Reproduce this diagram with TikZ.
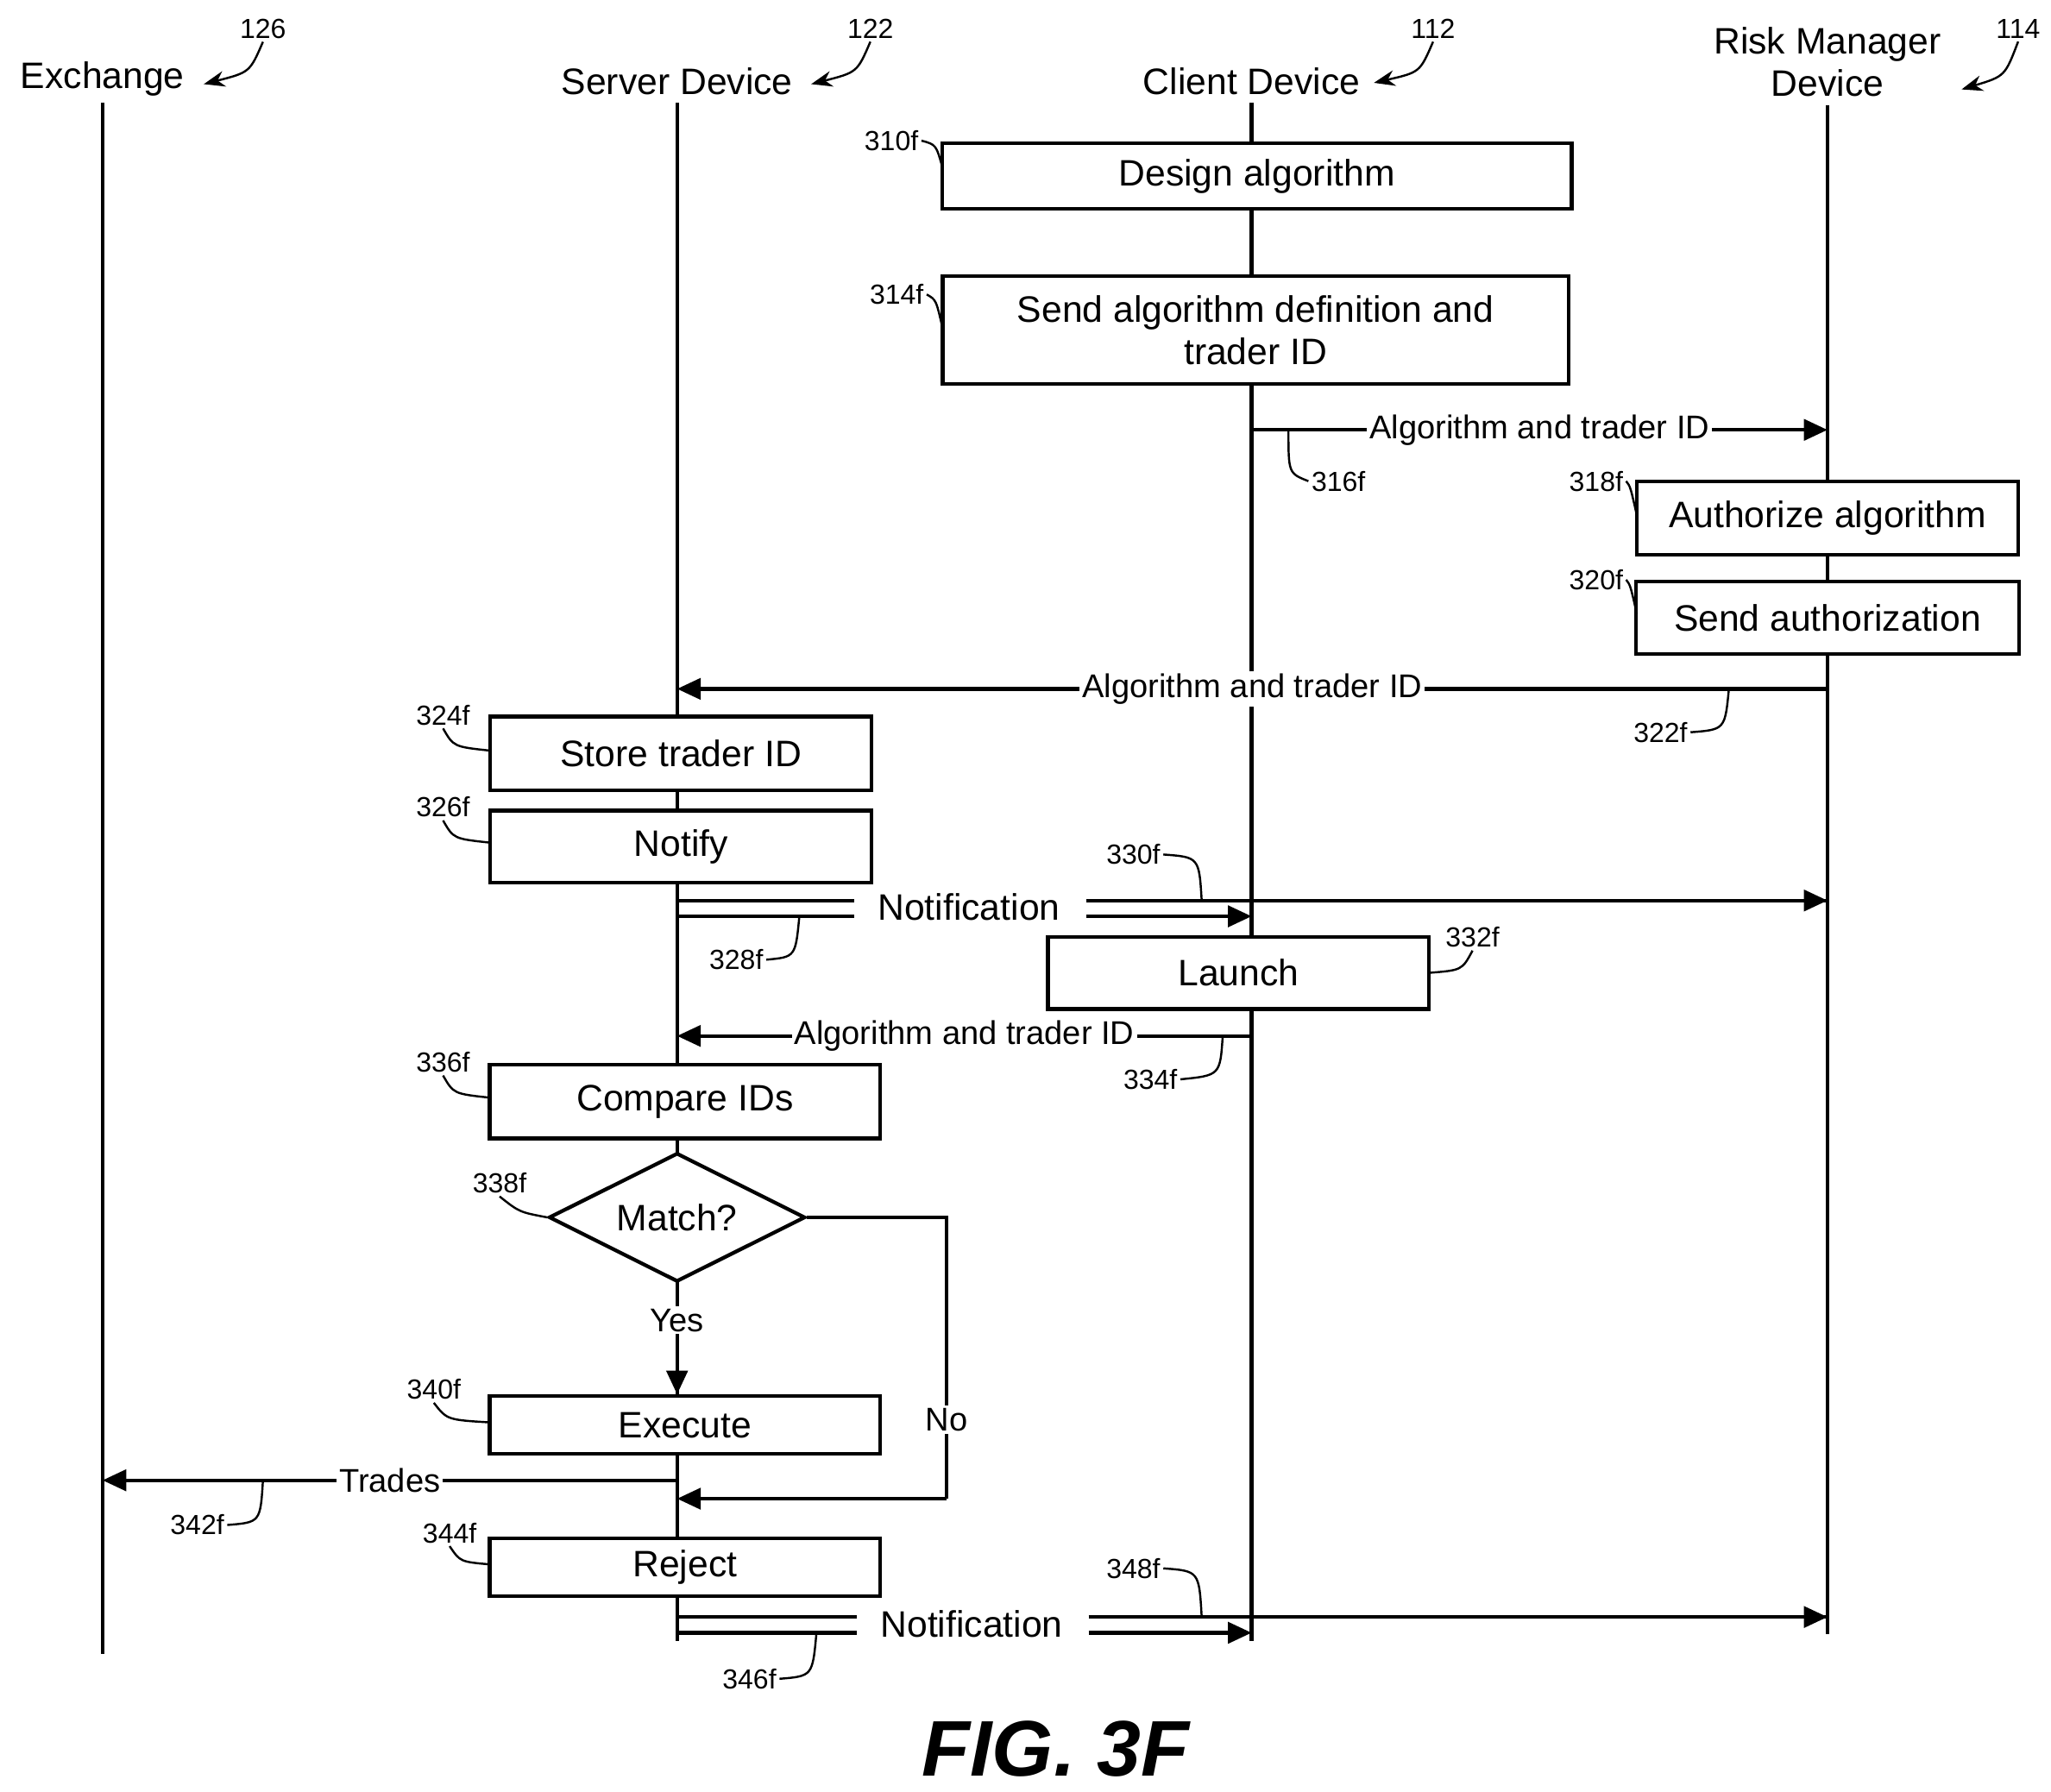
\documentclass[tikz,border=0pt]{standalone}
\usepackage{fontspec}
\setmainfont{Liberation Sans}
\usetikzlibrary{shapes.geometric,arrows.meta}
\tikzset{
  box/.style={draw,line width=1.4pt,fill=white,inner sep=0pt,font=\fontsize{14}{16}\selectfont,align=center},
  ref/.style={font=\fontsize{10.5}{12}\selectfont,inner sep=1pt},
  hdr/.style={font=\fontsize{14}{16}\selectfont,align=center,inner sep=1pt},
  lbl/.style={font=\fontsize{12.5}{14}\selectfont,fill=white,inner sep=1pt},
  msg/.style={line width=1.4pt,-{Triangle[length=9pt,width=8pt]}},
  life/.style={line width=1.4pt},
  lead/.style={line width=0.8pt}
}
\begin{document}
\begin{tikzpicture}[x=0.5pt,y=0.5pt,yscale=-1]
\useasboundingbox (0,0) rectangle (1560,1363);

% Lifelines
\coordinate (ex0) at (78,78);   \coordinate (ex1) at (78,1258);
\coordinate (sv0) at (515,78);  \coordinate (sv1) at (515,1248);
\coordinate (cl0) at (952,78);  \coordinate (cl1) at (952,1248);
\coordinate (rm0) at (1390,80); \coordinate (rm1) at (1390,1243);
\draw[life] (ex0) -- (ex1);
\draw[life] (sv0) -- (sv1);
\draw[life] (cl0) -- (cl1);
\draw[life] (rm0) -- (rm1);

% Headers
\node[hdr] (exchange) at (78,60) {Exchange};
\node[hdr] (server) at (515,62) {Server Device};
\node[hdr] (client) at (952,62) {Client Device};
\node[hdr] (risk) at (1390,47) {Risk Manager\\Device};
\node[ref] (r126) at (200,22) {126};
\node[ref] (r122) at (662,22) {122};
\node[ref] (r112) at (1090,22) {112};
\node[ref] (r114) at (1535,22) {114};
\draw[lead,-{Stealth[length=8pt]}] (r126.south) .. controls (190,55) .. (155,64);
\draw[lead,-{Stealth[length=8pt]}] (r122.south) .. controls (652,55) .. (617,64);
\draw[lead,-{Stealth[length=8pt]}] (r112.south) .. controls (1080,55) .. (1045,63);
\draw[lead,-{Stealth[length=8pt]}] (r114.south) .. controls (1525,58) .. (1492,68);

% Client boxes
\node[box,minimum width=239.5pt,minimum height=25pt] (design) at (956,134) {Design algorithm};
\node[box,minimum width=238pt,minimum height=41pt] (send) at (955,251) {Send algorithm definition and\\trader ID};
\node[ref] (r310) at (678,107) {310f};
\node[ref] (r314) at (682,224) {314f};
\draw[lead] (r310.east) .. controls (712,110) .. (717,128);
\draw[lead] (r314.east) .. controls (712,228) .. (717,250);

% 316f
\coordinate (a316s) at (952,327); \coordinate (a316e) at (1390,327);
\draw[msg] (a316s) -- node[lbl] (t316) {Algorithm and trader ID} (a316e);
\node[ref] (r316) at (1018,366) {316f};
\draw[lead] (980,327) .. controls (980,360) .. (r316.west);

% Risk manager boxes
\node[box,minimum width=145pt,minimum height=28pt] (authorize) at (1390,394) {Authorize algorithm};
\node[box,minimum width=145.5pt,minimum height=27.5pt] (sendauth) at (1390,470) {Send authorization};
\node[ref] (r318) at (1214,366) {318f};
\node[ref] (r320) at (1214,441) {320f};
\draw[lead] (r318.east) .. controls (1240,370) .. (1245,392);
\draw[lead] (r320.east) .. controls (1240,445) .. (1245,467);

% 322f
\coordinate (a322s) at (1390,524); \coordinate (a322e) at (515,524);
\draw[msg] (a322s) -- node[lbl] (t322) {Algorithm and trader ID} (a322e);
\node[ref] (r322) at (1263,557) {322f};
\draw[lead] (r322.east) .. controls (1312,555) .. (1315,524);

% Server boxes
\node[box,minimum width=145pt,minimum height=28pt] (store) at (518,573) {Store trader ID};
\node[box,minimum width=145pt,minimum height=27.5pt] (notify) at (518,644) {Notify};
\node[ref] (r324) at (337,544) {324f};
\node[ref] (r326) at (337,614) {326f};
\draw[lead] (r324.south) .. controls (345,568) .. (373,571);
\draw[lead] (r326.south) .. controls (345,638) .. (373,641);

% Notification (328f, 330f)
\coordinate (n1a) at (515,685); \coordinate (n1b) at (515,697);
\coordinate (n1c) at (1390,685); \coordinate (n1d) at (952,697);
\node[font=\fontsize{14}{16}\selectfont] (note1) at (737,690) {Notification};
\draw[life] (n1a) -- (650,685) (826,685) -- (n1c);
\draw[life] (n1b) -- (650,697);
\draw[msg] (826,697) -- (n1d);
\draw[msg] (1360,685) -- (n1c);
\node[ref] (r328) at (560,730) {328f};
\node[ref] (r330) at (862,650) {330f};
\draw[lead] (r328.east) .. controls (605,728) .. (608,697);
\draw[lead] (r330.east) .. controls (912,652) .. (914,685);

% Launch
\node[box,minimum width=145pt,minimum height=27.5pt] (launch) at (942,740) {Launch};
\node[ref] (r332) at (1120,713) {332f};
\draw[lead] (r332.south) .. controls (1112,738) .. (1087,740);

% 334f
\coordinate (a334s) at (952,788); \coordinate (a334e) at (515,788);
\draw[msg] (a334s) -- node[lbl] (t334) {Algorithm and trader ID} (a334e);
\node[ref] (r334) at (875,821) {334f};
\draw[lead] (r334.east) .. controls (928,818) .. (930,788);

% Compare and decision
\node[box,minimum width=148.5pt,minimum height=28pt] (compare) at (521,838) {Compare IDs};
\node[ref] (r336) at (337,808) {336f};
\draw[lead] (r336.south) .. controls (345,832) .. (373,835);
\node[draw,line width=1.4pt,diamond,fill=white,minimum width=97.5pt,minimum height=49pt,inner sep=0pt,aspect=2,font=\fontsize{14}{16}\selectfont] (match) at (515,926) {Match?};
\node[ref] (r338) at (380,900) {338f};
\draw[lead] (r338.south) .. controls (395,922) .. (match.west);
\node[box,minimum width=148.5pt,minimum height=22pt] (execute) at (521,1084) {Execute};
\node[ref] (r340) at (330,1057) {340f};
\draw[lead] (r340.south) .. controls (340,1080) .. (373,1082);
\draw[msg] (match.south) -- node[lbl,pos=0.33] (yes) {Yes} (match.south |- execute.north);
\coordinate (nocorner1) at (720,926); \coordinate (nocorner2) at (720,1140);
\coordinate (noend) at (515,1140);
\draw[life] (match.east) -- (nocorner1) -- node[lbl,pos=0.72] (no) {No} (nocorner2);
\draw[msg] (nocorner2) -- (noend);

% 342f
\coordinate (a342s) at (515,1126); \coordinate (a342e) at (78,1126);
\draw[msg] (a342s) -- node[lbl] (t342) {Trades} (a342e);
\node[ref] (r342) at (150,1160) {342f};
\draw[lead] (r342.east) .. controls (198,1158) .. (200,1126);

% Reject
\node[box,minimum width=148.5pt,minimum height=22pt] (reject) at (521,1192) {Reject};
\node[ref] (r344) at (342,1166) {344f};
\draw[lead] (r344.south) .. controls (350,1188) .. (373,1190);

% Notification (346f, 348f)
\coordinate (n2a) at (515,1230); \coordinate (n2b) at (515,1242);
\coordinate (n2c) at (1390,1230); \coordinate (n2d) at (952,1242);
\node[font=\fontsize{14}{16}\selectfont] (note2) at (739,1235) {Notification};
\draw[life] (n2a) -- (652,1230) (828,1230) -- (n2c);
\draw[life] (n2b) -- (652,1242);
\draw[msg] (828,1242) -- (n2d);
\draw[msg] (1360,1230) -- (n2c);
\node[ref] (r346) at (570,1277) {346f};
\node[ref] (r348) at (862,1193) {348f};
\draw[lead] (r346.east) .. controls (618,1275) .. (621,1242);
\draw[lead] (r348.east) .. controls (912,1195) .. (914,1230);

% Figure title
\node[font=\fontsize{30}{32}\selectfont\bfseries\itshape] (fig) at (803,1330) {FIG. 3F};
\end{tikzpicture}
\end{document}
